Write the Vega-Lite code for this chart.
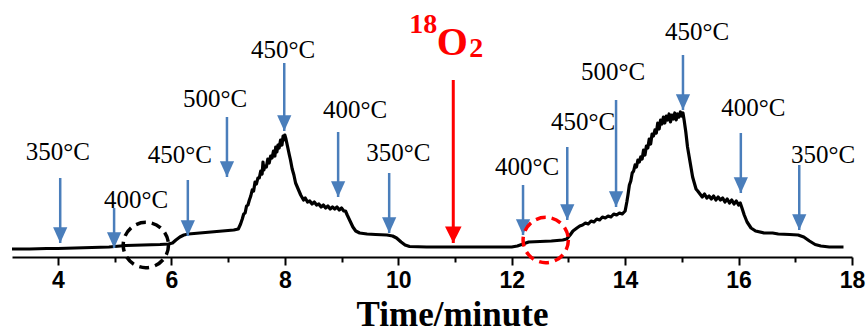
{
  "$schema": "https://vega.github.io/schema/vega-lite/v6.json",
  "width": 840,
  "height": 257,
  "autosize": {"type": "none"},
  "padding": {"left": 12, "top": 0, "right": 16, "bottom": 75},
  "background": "white",
  "config": {"view": {"stroke": null}},
  "datasets": {
    "signal": [
      {"t": 3.19, "h": 8}, {"t": 3.5, "h": 8}, {"t": 3.8, "h": 8.5}, {"t": 4.0, "h": 8.5},
      {"t": 4.3, "h": 9}, {"t": 4.6, "h": 9.5}, {"t": 4.9, "h": 10}, {"t": 5.0, "h": 10.5},
      {"t": 5.2, "h": 11.5}, {"t": 5.5, "h": 12}, {"t": 5.8, "h": 12.5}, {"t": 5.95, "h": 13},
      {"t": 6.02, "h": 14}, {"t": 6.08, "h": 17}, {"t": 6.15, "h": 20}, {"t": 6.22, "h": 22},
      {"t": 6.3, "h": 23}, {"t": 6.5, "h": 24}, {"t": 6.7, "h": 25}, {"t": 6.9, "h": 26},
      {"t": 7.0, "h": 26.5}, {"t": 7.1, "h": 27}, {"t": 7.18, "h": 28}, {"t": 7.22, "h": 33},
      {"t": 7.25, "h": 38}, {"t": 7.275, "h": 43}, {"t": 7.3, "h": 44}, {"t": 7.325, "h": 51},
      {"t": 7.35, "h": 52}, {"t": 7.375, "h": 57}, {"t": 7.4, "h": 61}, {"t": 7.425, "h": 67},
      {"t": 7.45, "h": 66}, {"t": 7.475, "h": 75}, {"t": 7.5, "h": 73}, {"t": 7.525, "h": 79},
      {"t": 7.55, "h": 79}, {"t": 7.575, "h": 86}, {"t": 7.6, "h": 83}, {"t": 7.615, "h": 95},
      {"t": 7.63, "h": 87}, {"t": 7.65, "h": 91}, {"t": 7.675, "h": 90}, {"t": 7.7, "h": 98},
      {"t": 7.725, "h": 94}, {"t": 7.75, "h": 101}, {"t": 7.775, "h": 99}, {"t": 7.8, "h": 106},
      {"t": 7.825, "h": 101}, {"t": 7.84, "h": 110}, {"t": 7.86, "h": 105}, {"t": 7.88, "h": 112},
      {"t": 7.9, "h": 109}, {"t": 7.925, "h": 117}, {"t": 7.95, "h": 112}, {"t": 7.97, "h": 121},
      {"t": 7.985, "h": 117}, {"t": 8.0, "h": 122}, {"t": 8.02, "h": 118}, {"t": 8.05, "h": 110},
      {"t": 8.08, "h": 102}, {"t": 8.1, "h": 97}, {"t": 8.13, "h": 88}, {"t": 8.16, "h": 82},
      {"t": 8.19, "h": 74}, {"t": 8.22, "h": 70}, {"t": 8.25, "h": 66}, {"t": 8.28, "h": 62},
      {"t": 8.3, "h": 60}, {"t": 8.33, "h": 57}, {"t": 8.36, "h": 59}, {"t": 8.4, "h": 55},
      {"t": 8.44, "h": 56}, {"t": 8.48, "h": 53}, {"t": 8.52, "h": 55}, {"t": 8.56, "h": 52},
      {"t": 8.6, "h": 53}, {"t": 8.64, "h": 50}, {"t": 8.68, "h": 52}, {"t": 8.72, "h": 49},
      {"t": 8.76, "h": 51}, {"t": 8.8, "h": 48}, {"t": 8.84, "h": 50}, {"t": 8.88, "h": 48},
      {"t": 8.92, "h": 50}, {"t": 8.96, "h": 47}, {"t": 9.0, "h": 49}, {"t": 9.04, "h": 46},
      {"t": 9.07, "h": 46}, {"t": 9.1, "h": 42}, {"t": 9.15, "h": 36}, {"t": 9.2, "h": 30},
      {"t": 9.25, "h": 26}, {"t": 9.32, "h": 24}, {"t": 9.45, "h": 23}, {"t": 9.6, "h": 22.5},
      {"t": 9.8, "h": 22}, {"t": 9.9, "h": 21}, {"t": 9.97, "h": 19}, {"t": 10.05, "h": 15},
      {"t": 10.12, "h": 12}, {"t": 10.2, "h": 10.5}, {"t": 10.5, "h": 10}, {"t": 11.0, "h": 10},
      {"t": 11.5, "h": 10}, {"t": 12.0, "h": 10}, {"t": 12.1, "h": 11}, {"t": 12.2, "h": 13},
      {"t": 12.3, "h": 15}, {"t": 12.5, "h": 15.5}, {"t": 12.7, "h": 16}, {"t": 12.9, "h": 17},
      {"t": 12.97, "h": 18}, {"t": 13.03, "h": 22}, {"t": 13.08, "h": 26}, {"t": 13.15, "h": 29},
      {"t": 13.2, "h": 31}, {"t": 13.25, "h": 32}, {"t": 13.3, "h": 34}, {"t": 13.35, "h": 33},
      {"t": 13.4, "h": 36}, {"t": 13.45, "h": 35}, {"t": 13.5, "h": 38}, {"t": 13.55, "h": 37},
      {"t": 13.6, "h": 40}, {"t": 13.65, "h": 39}, {"t": 13.7, "h": 41}, {"t": 13.75, "h": 40},
      {"t": 13.8, "h": 43}, {"t": 13.85, "h": 42}, {"t": 13.9, "h": 44}, {"t": 13.95, "h": 43},
      {"t": 14.0, "h": 46}, {"t": 14.03, "h": 55}, {"t": 14.05, "h": 62}, {"t": 14.075, "h": 72},
      {"t": 14.1, "h": 76}, {"t": 14.125, "h": 84}, {"t": 14.15, "h": 86}, {"t": 14.175, "h": 92},
      {"t": 14.2, "h": 90}, {"t": 14.225, "h": 97}, {"t": 14.25, "h": 95}, {"t": 14.275, "h": 100},
      {"t": 14.3, "h": 98}, {"t": 14.325, "h": 107}, {"t": 14.35, "h": 102}, {"t": 14.375, "h": 111},
      {"t": 14.4, "h": 109}, {"t": 14.425, "h": 118}, {"t": 14.45, "h": 113}, {"t": 14.475, "h": 123},
      {"t": 14.5, "h": 121}, {"t": 14.525, "h": 127}, {"t": 14.55, "h": 124}, {"t": 14.575, "h": 134},
      {"t": 14.6, "h": 128}, {"t": 14.625, "h": 137}, {"t": 14.65, "h": 133}, {"t": 14.675, "h": 140},
      {"t": 14.7, "h": 134}, {"t": 14.725, "h": 141}, {"t": 14.75, "h": 137}, {"t": 14.775, "h": 143},
      {"t": 14.8, "h": 135}, {"t": 14.825, "h": 142}, {"t": 14.85, "h": 138}, {"t": 14.875, "h": 144},
      {"t": 14.9, "h": 137}, {"t": 14.925, "h": 143}, {"t": 14.95, "h": 140}, {"t": 14.975, "h": 145},
      {"t": 15.0, "h": 141}, {"t": 15.02, "h": 144}, {"t": 15.04, "h": 137}, {"t": 15.07, "h": 125},
      {"t": 15.1, "h": 110}, {"t": 15.13, "h": 100}, {"t": 15.16, "h": 90}, {"t": 15.19, "h": 80},
      {"t": 15.22, "h": 74}, {"t": 15.25, "h": 68}, {"t": 15.28, "h": 66}, {"t": 15.32, "h": 63},
      {"t": 15.36, "h": 60}, {"t": 15.4, "h": 63}, {"t": 15.44, "h": 59}, {"t": 15.48, "h": 61},
      {"t": 15.52, "h": 58}, {"t": 15.56, "h": 61}, {"t": 15.6, "h": 57}, {"t": 15.64, "h": 60},
      {"t": 15.68, "h": 57}, {"t": 15.72, "h": 59}, {"t": 15.76, "h": 55}, {"t": 15.8, "h": 58},
      {"t": 15.84, "h": 54}, {"t": 15.88, "h": 57}, {"t": 15.92, "h": 53}, {"t": 15.96, "h": 56},
      {"t": 16.0, "h": 52}, {"t": 16.03, "h": 54}, {"t": 16.06, "h": 49}, {"t": 16.1, "h": 42},
      {"t": 16.15, "h": 35}, {"t": 16.22, "h": 29}, {"t": 16.3, "h": 26}, {"t": 16.45, "h": 24},
      {"t": 16.6, "h": 24}, {"t": 16.7, "h": 23}, {"t": 16.9, "h": 22.5}, {"t": 17.05, "h": 22},
      {"t": 17.15, "h": 20}, {"t": 17.25, "h": 16}, {"t": 17.35, "h": 12.5}, {"t": 17.45, "h": 11},
      {"t": 17.6, "h": 10}, {"t": 17.85, "h": 10}
    ],
    "arrows": [
      {"t": 4.04, "top": 79, "tip": 14, "label": "350°C", "lt": 4.0, "lh": 105},
      {"t": 4.99, "top": 49, "tip": 9, "label": "400°C", "lt": 5.38, "lh": 57},
      {"t": 6.29, "top": 77, "tip": 21, "label": "450°C", "lt": 6.15, "lh": 102},
      {"t": 6.98, "top": 140, "tip": 80, "label": "500°C", "lt": 6.77, "lh": 158},
      {"t": 7.99, "top": 194, "tip": 126, "label": "450°C", "lt": 7.97, "lh": 207},
      {"t": 8.94, "top": 125, "tip": 60, "label": "400°C", "lt": 9.24, "lh": 147},
      {"t": 9.84, "top": 84, "tip": 24, "label": "350°C", "lt": 10.0, "lh": 104},
      {"t": 12.2, "top": 72, "tip": 22, "label": "400°C", "lt": 12.27, "lh": 90},
      {"t": 12.98, "top": 110, "tip": 37, "label": "450°C", "lt": 13.26, "lh": 135},
      {"t": 13.84, "top": 157, "tip": 50, "label": "500°C", "lt": 13.79, "lh": 185},
      {"t": 15.02, "top": 202, "tip": 147, "label": "450°C", "lt": 15.27, "lh": 225},
      {"t": 16.04, "top": 124, "tip": 64, "label": "400°C", "lt": 16.26, "lh": 149},
      {"t": 17.07, "top": 92, "tip": 27, "label": "350°C", "lt": 17.49, "lh": 102}
    ],
    "red": [
      {"t": 10.97, "top": 177, "tip": 14, "lh": 202}
    ],
    "circles": [
      {"t": 5.55, "h": 12, "c": "black"},
      {"t": 12.6, "h": 17, "c": "red"}
    ]
  },
  "layer": [
    {
      "data": {"name": "signal"},
      "mark": {"type": "line", "color": "black", "strokeWidth": 3.2, "strokeJoin": "round"},
      "encoding": {
        "x": {
          "field": "t", "type": "quantitative",
          "scale": {"domain": [3.19, 18], "nice": false, "zero": false},
          "axis": {
            "orient": "bottom",
            "values": [4, 6, 8, 10, 12, 14, 16, 18],
            "grid": false,
            "domainColor": "black", "domainWidth": 2,
            "tickColor": "black", "tickWidth": 2, "tickSize": 8,
            "labelFont": "Liberation Sans", "labelFontWeight": "bold", "labelFontSize": 23,
            "labelColor": "black", "labelPadding": 4, "labelFlush": false,
            "title": "Time/minute",
            "titleFont": "Liberation Serif", "titleFontWeight": "bold", "titleFontSize": 35,
            "titleColor": "black", "titleAnchor": "middle", "titleX": 440, "titleY": 68,
            "titleBaseline": "alphabetic"
          }
        },
        "y": {"field": "h", "type": "quantitative", "scale": {"domain": [0, 257]}, "axis": null}
      }
    },
    {
      "data": {"name": "arrows"},
      "mark": {"type": "rule", "color": "#4a7ebb", "strokeWidth": 2.5},
      "encoding": {
        "x": {"field": "t", "type": "quantitative", "scale": {"domain": [3.19, 18], "nice": false, "zero": false}, "axis": null},
        "y": {"field": "top", "type": "quantitative", "scale": {"domain": [0, 257]}, "axis": null},
        "y2": {"field": "tip"}
      }
    },
    {
      "data": {"name": "arrows"},
      "mark": {"type": "point", "shape": "M0,0L-0.45,-1L0.45,-1Z", "filled": true, "color": "#4a7ebb", "opacity": 1, "size": 1000, "strokeWidth": 0},
      "encoding": {
        "x": {"field": "t", "type": "quantitative", "scale": {"domain": [3.19, 18], "nice": false, "zero": false}, "axis": null},
        "y": {"field": "tip", "type": "quantitative", "scale": {"domain": [0, 257]}, "axis": null}
      }
    },
    {
      "data": {"name": "arrows"},
      "mark": {"type": "text", "font": "Liberation Serif", "fontSize": 25, "color": "black", "align": "center", "baseline": "middle"},
      "encoding": {
        "x": {"field": "lt", "type": "quantitative", "scale": {"domain": [3.19, 18], "nice": false, "zero": false}, "axis": null},
        "y": {"field": "lh", "type": "quantitative", "scale": {"domain": [0, 257]}, "axis": null},
        "text": {"field": "label"}
      }
    },
    {
      "data": {"name": "red"},
      "mark": {"type": "rule", "color": "#ff0000", "strokeWidth": 3},
      "encoding": {
        "x": {"field": "t", "type": "quantitative", "scale": {"domain": [3.19, 18], "nice": false, "zero": false}, "axis": null},
        "y": {"field": "top", "type": "quantitative", "scale": {"domain": [0, 257]}, "axis": null},
        "y2": {"field": "tip"}
      }
    },
    {
      "data": {"name": "red"},
      "mark": {"type": "point", "shape": "M0,0L-0.5,-1L0.5,-1Z", "filled": true, "color": "#ff0000", "opacity": 1, "size": 1100, "strokeWidth": 0},
      "encoding": {
        "x": {"field": "t", "type": "quantitative", "scale": {"domain": [3.19, 18], "nice": false, "zero": false}, "axis": null},
        "y": {"field": "tip", "type": "quantitative", "scale": {"domain": [0, 257]}, "axis": null}
      }
    },
    {
      "data": {"name": "red"},
      "mark": {"type": "text", "font": "Liberation Serif", "fontWeight": "bold", "fontSize": 40, "color": "#ff0000", "align": "center", "baseline": "alphabetic", "dx": -1},
      "encoding": {
        "x": {"field": "t", "type": "quantitative", "scale": {"domain": [3.19, 18], "nice": false, "zero": false}, "axis": null},
        "y": {"field": "lh", "type": "quantitative", "scale": {"domain": [0, 257]}, "axis": null},
        "text": {"value": "O"}
      }
    },
    {
      "data": {"name": "red"},
      "mark": {"type": "text", "font": "Liberation Serif", "fontWeight": "bold", "fontSize": 28, "color": "#ff0000", "align": "right", "baseline": "alphabetic", "dx": -16, "dy": -22},
      "encoding": {
        "x": {"field": "t", "type": "quantitative", "scale": {"domain": [3.19, 18], "nice": false, "zero": false}, "axis": null},
        "y": {"field": "lh", "type": "quantitative", "scale": {"domain": [0, 257]}, "axis": null},
        "text": {"value": "18"}
      }
    },
    {
      "data": {"name": "red"},
      "mark": {"type": "text", "font": "Liberation Serif", "fontWeight": "bold", "fontSize": 28, "color": "#ff0000", "align": "left", "baseline": "alphabetic", "dx": 16, "dy": 2},
      "encoding": {
        "x": {"field": "t", "type": "quantitative", "scale": {"domain": [3.19, 18], "nice": false, "zero": false}, "axis": null},
        "y": {"field": "lh", "type": "quantitative", "scale": {"domain": [0, 257]}, "axis": null},
        "text": {"value": "2"}
      }
    },
    {
      "data": {"name": "circles"},
      "mark": {"type": "point", "shape": "circle", "filled": false, "strokeWidth": 3.5, "strokeDash": [10, 6], "size": 2050, "opacity": 1},
      "encoding": {
        "x": {
          "field": "t", "type": "quantitative",
          "scale": {"domain": [3.19, 18], "nice": false, "zero": false},
          "axis": {
            "orient": "bottom",
            "values": [5, 7, 9, 11, 13, 15, 17],
            "grid": false, "domain": false, "labels": false, "title": null,
            "tickColor": "black", "tickWidth": 2, "tickSize": 5
          }
        },
        "y": {"field": "h", "type": "quantitative", "scale": {"domain": [0, 257]}, "axis": null},
        "color": {"field": "c", "type": "nominal", "scale": {"domain": ["black", "red"], "range": ["#000000", "#ff0000"]}, "legend": null}
      }
    }
  ],
  "resolve": {"axis": {"x": "independent"}}
}
